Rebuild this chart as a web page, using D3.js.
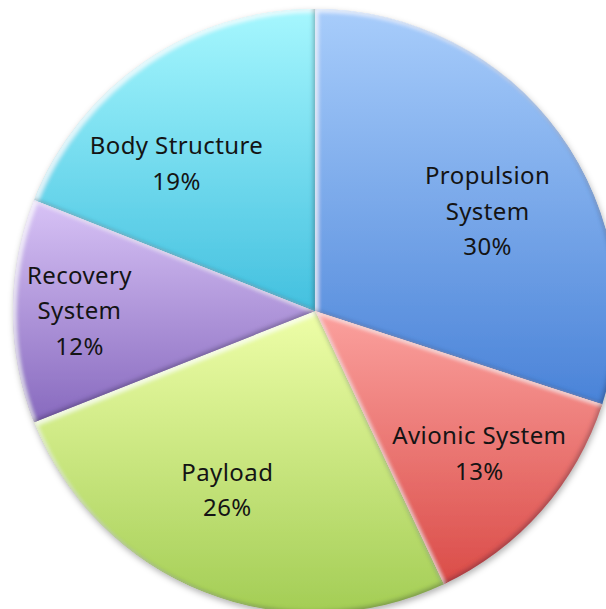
<!DOCTYPE html>
<html>
<head>
<meta charset="utf-8">
<script src="https://cdn.jsdelivr.net/npm/d3@7"></script>
<style>
  html, body { margin: 0; padding: 0; background: #ffffff; }
  svg { display: block; }
  text { font-family: "Noto Sans", "Open Sans", Lato, sans-serif; }
</style>
</head>
<body>
<svg id="chart" width="606" height="609"></svg>
<script>
// Mass breakdown of the rocket, in percent
const categories = ["Propulsion System", "Avionic System", "Payload", "Recovery System", "Body Structure"];
const shares = [30, 13, 26, 12, 19];

// Label lines shown in each slice
const labelLines = [
  ["Propulsion", "System", "30%"],
  ["Avionic System", "13%"],
  ["Payload", "26%"],
  ["Recovery", "System", "12%"],
  ["Body Structure", "19%"]
];

// Gradient stops (top, bottom) for each slice
const sliceColors = [
  ["#a8cdfb", "#4a83d8"],
  ["#fba19e", "#da4c48"],
  ["#eefea8", "#a3cd55"],
  ["#d8c3f6", "#8769be"],
  ["#a6f7fe", "#43c0df"]
];

// Label placement: radius as a fraction of the pie radius, angle shift in degrees
const labelPlacement = [
  [0.66, 6],
  [0.72, -0.5],
  [0.66, 4.5],
  [0.78, 0],
  [0.67, -9]
];

const W = 606, H = 609;
const cx = 315, cy = 311, R = 302;

const svg = d3.select("#chart");
const defs = svg.append("defs");

// per-slice vertical gradients
sliceColors.forEach((c, i) => {
  const g = defs.append("linearGradient")
    .attr("id", "grad" + i)
    .attr("x1", 0).attr("y1", 0).attr("x2", 0).attr("y2", 1);
  g.append("stop").attr("offset", "0%").attr("stop-color", c[0]);
  g.append("stop").attr("offset", "100%").attr("stop-color", c[1]);
});

// soft bevel: light top-left rim, dark bottom-right rim
const bevel = defs.append("filter").attr("id", "bevel")
  .attr("x", "-5%").attr("y", "-5%").attr("width", "110%").attr("height", "110%");
bevel.append("feGaussianBlur").attr("in", "SourceAlpha").attr("stdDeviation", 2.2).attr("result", "blur");
bevel.append("feOffset").attr("in", "blur").attr("dx", 2.5).attr("dy", 2.5).attr("result", "offDR");
bevel.append("feComposite").attr("in", "SourceAlpha").attr("in2", "offDR").attr("operator", "arithmetic")
  .attr("k2", 1).attr("k3", -1).attr("result", "hiMask");
bevel.append("feFlood").attr("flood-color", "#ffffff").attr("flood-opacity", 0.75);
bevel.append("feComposite").attr("in2", "hiMask").attr("operator", "in").attr("result", "hi");
bevel.append("feOffset").attr("in", "blur").attr("dx", -2.5).attr("dy", -2.5).attr("result", "offUL");
bevel.append("feComposite").attr("in", "SourceAlpha").attr("in2", "offUL").attr("operator", "arithmetic")
  .attr("k2", 1).attr("k3", -1).attr("result", "loMask");
bevel.append("feFlood").attr("flood-color", "#1a1a3a").attr("flood-opacity", 0.5);
bevel.append("feComposite").attr("in2", "loMask").attr("operator", "in").attr("result", "lo");
const merge = bevel.append("feMerge");
merge.append("feMergeNode").attr("in", "SourceGraphic");
merge.append("feMergeNode").attr("in", "hi");
merge.append("feMergeNode").attr("in", "lo");

// drop shadow under the whole pie
const shadow = defs.append("filter").attr("id", "shadow")
  .attr("x", "-10%").attr("y", "-10%").attr("width", "120%").attr("height", "120%");
shadow.append("feGaussianBlur").attr("in", "SourceAlpha").attr("stdDeviation", 3);
shadow.append("feOffset").attr("dx", 1).attr("dy", 3).attr("result", "sb");
shadow.append("feFlood").attr("flood-color", "#000").attr("flood-opacity", 0.3);
shadow.append("feComposite").attr("in2", "sb").attr("operator", "in");

const pie = d3.pie().sort(null).value(d => d);
const arcs = pie(shares);
const arc = d3.arc().innerRadius(0).outerRadius(R);

const g = svg.append("g").attr("transform", `translate(${cx},${cy})`);

// shadow disc
g.append("path")
  .attr("d", d3.arc().innerRadius(0).outerRadius(R)({startAngle: 0, endAngle: 2 * Math.PI}))
  .attr("fill", "#888")
  .attr("filter", "url(#shadow)");

g.selectAll("path.slice")
  .data(arcs)
  .join("path")
  .attr("class", "slice")
  .attr("d", arc)
  .attr("fill", (d, i) => `url(#grad${i})`)
  .attr("filter", "url(#bevel)");

// labels
const lineGap = 35.5;
const fontSize = 24;
arcs.forEach((d, i) => {
  const [frac, shiftDeg] = labelPlacement[i];
  const mid = (d.startAngle + d.endAngle) / 2 + shiftDeg * Math.PI / 180;
  const la = d3.arc().innerRadius(R * frac).outerRadius(R * frac);
  const [x, y] = la.centroid({startAngle: mid, endAngle: mid});
  const lines = labelLines[i];
  const t = g.append("text")
    .attr("text-anchor", "middle")
    .attr("font-size", fontSize)
    .attr("letter-spacing", 0.4)
    .attr("fill", "#141414");
  lines.forEach((ln, k) => {
    t.append("tspan")
      .attr("x", x)
      .attr("y", y + (k - (lines.length - 1) / 2) * lineGap)
      .attr("dy", "0.35em")
      .text(ln);
  });
});
</script>
</body>
</html>
